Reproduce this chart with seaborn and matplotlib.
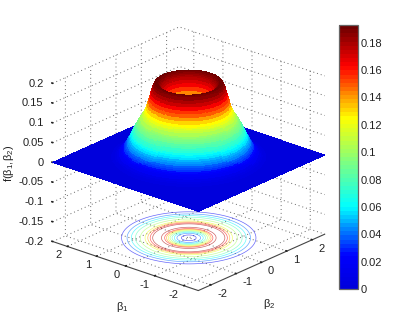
import numpy as np
import matplotlib
matplotlib.use("Agg")
import matplotlib.pyplot as plt
from matplotlib.colors import LinearSegmentedColormap, ListedColormap, Normalize
from matplotlib.cm import ScalarMappable
import seaborn as sns

# radial profile
radius = [0, .05, .1, .15, .2, .25, .3, .35, .4, .45, .5, .525, .55, .575, .6, .625, .65, .675, .7, .725,
          .75, .775, .8, .825, .85, .875, .9, .925, .95, .975, 1.0, 1.025, 1.05, 1.075, 1.1, 1.125, 1.15,
          1.175, 1.2, 1.25, 1.275, 1.3, 1.325, 1.35, 1.375, 1.4, 1.425, 1.45, 1.475, 1.5, 1.525, 1.55,
          1.575, 1.6, 1.625, 1.65, 1.675, 1.7, 1.725, 1.75, 1.8, 1.85, 1.9, 1.95, 2.0, 2.1, 2.2, 2.3]
density = [.004, .006, .010, .015, .021, .028, .038, .052, .068, .086, .106, .117, .128, .139, .150, .160,
           .168, .175, .179, .182, .185, .188, .191, .192, .192, .191, .188, .183, .176, .168, .160, .152,
           .144, .136, .128, .122, .116, .112, .108, .101, .0975, .094, .090, .086, .0815, .077, .072, .067,
           .0625, .058, .0535, .049, .0445, .040, .036, .032, .0285, .025, .022, .019, .014, .010, .007,
           .005, .003, .001, 0, 0]
contour_levels = [.02, .04, .06, .08, .10, .12, .14, .16, .18]
beta_ticks = [-2, -1, 0, 1, 2]
beta_labels = ['-2', '-1', '0', '1', '2']
z_ticks = [-.2, -.15, -.1, -.05, 0, .05, .1, .15, .2]
z_labels = ['-0.2', '-0.15', '-0.1', '-0.05', '0', '0.05', '0.1', '0.15', '0.2']
cbar_ticks = [0, .02, .04, .06, .08, .1, .12, .14, .16, .18]
cbar_labels = ['0', '0.02', '0.04', '0.06', '0.08', '0.1', '0.12', '0.14', '0.16', '0.18']
z_max = 0.193

sns.set_theme(style='white')
plt.rcParams['font.family'] = ['Liberation Sans', 'DejaVu Sans']
plt.rcParams['mathtext.default'] = 'regular'
plt.rcParams['font.size'] = 8

nodes = LinearSegmentedColormap.from_list('j', [(0, '#0000DC'), (.12, '#0000FF'), (.31, '#00FFFF'), (.65, '#FFFF00'),
                                                (.85, '#FF0000'), (1, '#6E0000')])
cmap = ListedColormap(sns.color_palette(nodes(np.linspace(0, 1, 64))))
norm = Normalize(0, z_max)

theta = np.linspace(0, 2*np.pi, 161)
rr = np.array(radius)
R = np.tile(rr, (len(theta), 1))
bound = 2.5/np.maximum(np.abs(np.cos(theta)), np.abs(np.sin(theta)))
R = np.column_stack([R, bound])
T = np.tile(theta[:, None], (1, R.shape[1]))
X = R*np.cos(T)
Y = R*np.sin(T)
Z = np.tile(np.array(density + [0.0]), (len(theta), 1))

fig = plt.figure(figsize=(3.99, 3.16), dpi=100)
ax = fig.add_axes([-15/399, -5/316, 1, 1], projection='3d', proj_type='ortho')
ax.patch.set_alpha(0)
ax.view_init(elev=22.8, azim=-139)
ax.set_box_aspect((1, 1, .89), zoom=.99)
ax.set_xlim(-2.5, 2.5)
ax.set_ylim(-2.5, 2.5)
ax.set_zlim(-.2, .2)

ax.plot_surface(X, Y, Z, rstride=1, cstride=1, cmap=cmap, norm=norm, linewidth=0, antialiased=False, shade=False)
ax.contour(X, Y, Z, levels=contour_levels, zdir='z', offset=-.2, cmap=cmap, norm=norm, linewidths=.5, alpha=.6)

ax.set_xticks(beta_ticks)
ax.set_xticklabels(beta_labels, va='center', ha='left')
ax.set_yticks(beta_ticks)
ax.set_yticklabels(beta_labels, va='center', ha='right')
ax.set_zticks(z_ticks)
ax.set_zticklabels(z_labels, va='center', ha='right')
for a, pad in ((ax.xaxis, -3), (ax.yaxis, -3), (ax.zaxis, -4)):
    a.set_pane_color((1, 1, 1, 0))
    a.pane.set_edgecolor((1, 1, 1, 0))
    a._axinfo['grid'].update(color='#666666', linestyle=(0, (1, 3)), linewidth=.7)
    a._axinfo['tick'].update(inward_factor=0, outward_factor=.08)
    a.set_tick_params(labelsize=8, colors='#222222', pad=pad, width=.6)
    a.line.set_color('#444444')
    a.line.set_linewidth(.8)
ax.zaxis.line.set_color((1, 1, 1, 0))
ax.zaxis._get_tickdir = lambda position: 1

cax = fig.add_axes([339/399, (316-289)/316, 19/399, 264/316])
cb = fig.colorbar(ScalarMappable(norm=norm, cmap=cmap), cax=cax, ticks=cbar_ticks)
cb.ax.set_yticklabels(cbar_labels)
cb.ax.tick_params(direction='in', length=2, width=.6, labelsize=8, left=True, right=True, pad=2, colors='#222222')
cb.outline.set_edgecolor('#666666')
cb.outline.set_linewidth(.9)

fig.text(122/399, 1-307/316, 'β$_1$', ha='center', va='center', fontsize=8, color='#222222')
fig.text(269/399, 1-304/316, 'β$_2$', ha='center', va='center', fontsize=8, color='#222222')
fig.text(9/399, 1-163/316, 'f(β$_1$,β$_2$)', ha='center', va='center', rotation=90, fontsize=8, color='#222222')
fig.savefig('out.png', dpi=100)
